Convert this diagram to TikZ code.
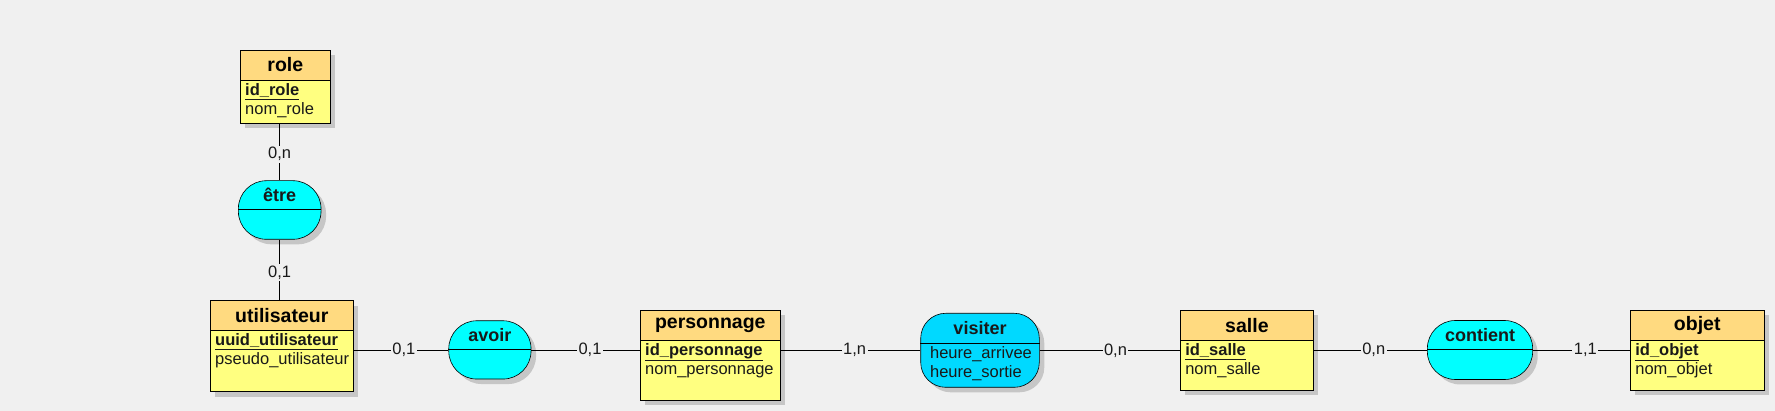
\documentclass[tikz,border=0pt]{standalone}
\usepackage{fontspec}
\setmainfont{Liberation Sans}
\usetikzlibrary{positioning, shadows}
\definecolor{fond}{HTML}{F0F0F0}
\definecolor{tete}{HTML}{FFDA80}
\definecolor{corps}{HTML}{FFFF80}
\definecolor{cyana}{HTML}{00FFFF}
\definecolor{bleua}{HTML}{00D9FF}
\definecolor{ombre}{HTML}{C6C6C6}
\tikzset{
  omb/.style = {drop shadow={shadow xshift=5pt, shadow yshift=-5pt,
    fill=ombre, opacity=1}},
  ent/.style = {draw=black, fill=tete, minimum height=30pt, inner sep=0pt,
    line width=0.6pt, text=black, font=\fontsize{19.5}{22}\selectfont\bfseries, omb},
  cor/.style = {draw=black, fill=corps, inner sep=0pt, line width=0.6pt, omb},
  att/.style = {anchor=north west, align=left, inner xsep=5pt, inner ysep=3.5pt,
    font=\fontsize{16.5}{19.3}\selectfont, text=black!90},
  aso/.style = {draw=black, fill=cyana, rounded corners=28pt, inner sep=0pt,
    line width=0.6pt, omb},
  anom/.style = {font=\fontsize{18}{20}\selectfont\bfseries, text=black!90,
    inner sep=0pt},
  card/.style = {fill=fond, inner sep=1.5pt, font=\fontsize{16.5}{19}\selectfont,
    text=black!90},
  lien/.style = {draw=black, line width=0.6pt}
}
\begin{document}
\begin{tikzpicture}[x=1pt, y=-1pt]
  \path[use as bounding box, fill=fond] (0,0) rectangle (1775,411);

  \node[ent, minimum width=90pt] (role-t) at (285.3,65) {role};
  \node[cor, minimum width=90pt, minimum height=43.3pt, below=-0.6pt of role-t] (role) {};
  \node[att] (role-a) at (role.north west) {\underline{\textbf{id\_role}}\\nom\_role};

  \node[ent, minimum width=143pt, minimum height=29.5pt] (util-t) at (281.8,315.5) {utilisateur};
  \node[cor, minimum width=143pt, minimum height=61.5pt, below=-0.6pt of util-t] (util) {};
  \node[att] (util-a) at (util.north west) {\underline{\textbf{uuid\_utilisateur}}\\pseudo\_utilisateur};

  \node[ent, minimum width=140pt] (pers-t) at (710.3,325.3) {personnage};
  \node[cor, minimum width=140pt, minimum height=59.7pt, below=-0.6pt of pers-t] (pers) {};
  \node[att] (pers-a) at (pers.north west) {\underline{\textbf{id\_personnage}}\\nom\_personnage};

  \node[ent, minimum width=133pt] (salle-t) at (1246.9,325.3) {salle};
  \node[cor, minimum width=133pt, minimum height=49.7pt, below=-0.6pt of salle-t] (salle) {};
  \node[att] (salle-a) at (salle.north west) {\underline{\textbf{id\_salle}}\\nom\_salle};

  \node[ent, minimum width=133.5pt] (objet-t) at (1697.2,325.3) {objet};
  \node[cor, minimum width=133.5pt, minimum height=49.7pt, below=-0.6pt of objet-t] (objet) {};
  \node[att] (objet-a) at (objet.north west) {\underline{\textbf{id\_objet}}\\nom\_objet};

  \node[aso, minimum width=82.7pt, minimum height=58.6pt] (etre) at (279.7,210) {};
  \node[anom] (etre-n) at ([yshift=-14.5pt]etre.north) {être};
  \draw[lien] ([yshift=-29.3pt]etre.north west) -- ([yshift=-29.3pt]etre.north east);

  \node[aso, minimum width=82.3pt, minimum height=58.3pt] (avoir) at (489.9,349.9) {};
  \node[anom] (avoir-n) at ([yshift=-14.5pt]avoir.north) {avoir};
  \draw[lien] ([yshift=-29.2pt]avoir.north west) -- ([yshift=-29.2pt]avoir.north east);

  \node[aso, fill=bleua, rounded corners=25pt, minimum width=118.6pt, minimum height=74pt] (visiter) at (980,350.3) {};
  \node[anom] (visiter-n) at ([yshift=-15pt]visiter.north) {visiter};
  \draw[lien] ([yshift=-30pt]visiter.north west) -- ([yshift=-30pt]visiter.north east);
  \node[att, inner xsep=9.5pt] (visiter-a) at ([yshift=-30pt]visiter.north west) {heure\_arrivee\\heure\_sortie};

  \node[aso, minimum width=105.3pt, minimum height=59pt] (contient) at (1480,350) {};
  \node[anom] (contient-n) at ([yshift=-14.5pt]contient.north) {contient};
  \draw[lien] ([yshift=-29.5pt]contient.north west) -- ([yshift=-29.5pt]contient.north east);

  \draw[lien] (etre.north) -- (etre.north |- role.south) node[card, pos=0.46] {0,n};
  \draw[lien] (etre.south) -- (etre.south |- util-t.north) node[card, pos=0.54] {0,1};
  \draw[lien] (avoir.west) -- (avoir.west -| util.east) node[card, pos=0.47] {0,1};
  \draw[lien] (avoir.east) -- (avoir.east -| pers.west) node[card, pos=0.54] {0,1};
  \draw[lien] (visiter.west) -- (visiter.west -| pers.east) node[card, pos=0.47] {1,n};
  \draw[lien] (visiter.east) -- (visiter.east -| salle.west) node[card, pos=0.54] {0,n};
  \draw[lien] (contient.west) -- (contient.west -| salle.east) node[card, pos=0.47] {0,n};
  \draw[lien] (contient.east) -- (contient.east -| objet.west) node[card, pos=0.54] {1,1};
\end{tikzpicture}
\end{document}
